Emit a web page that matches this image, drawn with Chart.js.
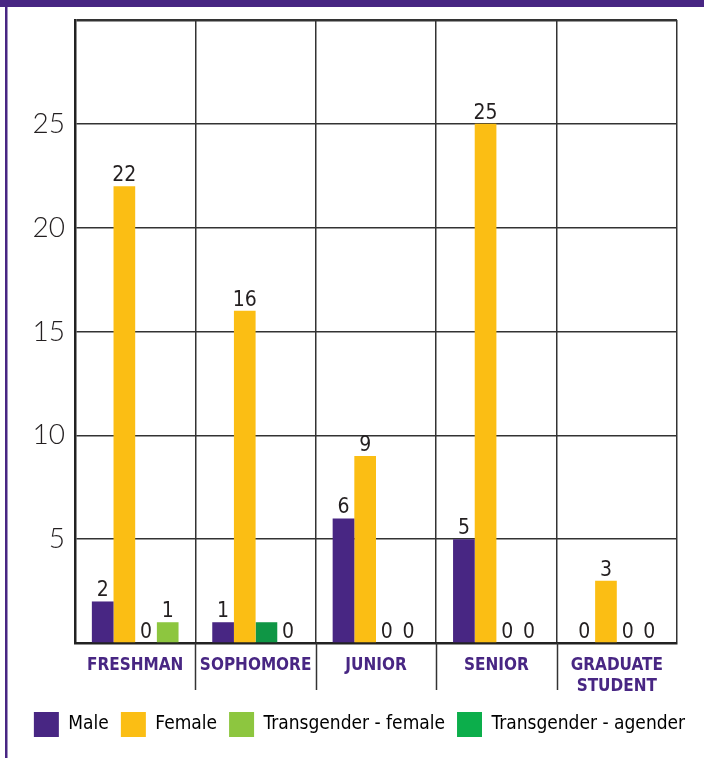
<!DOCTYPE html>
<html>
<head>
<meta charset="utf-8">
<script src="https://cdn.jsdelivr.net/npm/chart.js@4/dist/chart.umd.min.js"></script>
<style>
  html, body { margin: 0; padding: 0; background: #fff; }
  #wrap { position: relative; width: 704px; height: 758px; }
  canvas { display: block; }
</style>
</head>
<body>
<div id="wrap"><canvas id="c" width="704" height="758"></canvas></div>
<script>
// Students by class year and gender
const categories = ['FRESHMAN', 'SOPHOMORE', 'JUNIOR', 'SENIOR', ['GRADUATE', 'STUDENT']];
const seriesNames = ['Male', 'Female', 'Transgender - female', 'Transgender - agender'];
const male = [2, 1, 6, 5, 0];
const female = [22, 16, 9, 25, 3];
const transFemale = [0, 1, 0, 0, 0];
const transAgender = [1, 0, 0, 0, 0];
const yTicks = [5, 10, 15, 20, 25];

const PURPLE = '#482683';
const GOLD = '#fbbe14';
const LIGHT_GREEN = '#8dc63f';
const DARK_GREEN = '#0f9645';
const LEGEND_GREEN = '#0cae4b';

const NARROW = "'DejaVu Sans Condensed', 'Roboto', sans-serif";

// value labels that are left off the chart (dataset index, category index)
const unlabeled = [[2, 1]];

const valueLabels = {
  id: 'valueLabels',
  afterDatasetsDraw(chart) {
    const ctx = chart.ctx;
    ctx.save();
    ctx.font = '21px ' + NARROW;
    ctx.fillStyle = '#231f20';
    ctx.textAlign = 'center';
    ctx.textBaseline = 'alphabetic';
    chart.data.datasets.forEach((ds, di) => {
      const meta = chart.getDatasetMeta(di);
      meta.data.forEach((bar, i) => {
        if (unlabeled.some(p => p[0] === di && p[1] === i)) return;
        ctx.fillText(String(ds.data[i]), bar.x, bar.y - 5);
      });
    });
    ctx.restore();
  }
};

const frame = {
  id: 'frame',
  afterLayout(chart) {
    // nudge the legend row to the right
    if (chart.legend) {
      chart.legend.left += 21;
      chart.legend.right += 21;
    }
  },
  beforeDraw(chart) {
    const ctx = chart.ctx;
    ctx.save();
    ctx.fillStyle = '#fff';
    ctx.fillRect(0, 0, chart.width, chart.height);
    ctx.fillStyle = PURPLE;
    ctx.fillRect(0, 0, chart.width, 7);
    ctx.fillRect(5, 0, 2.5, chart.height);
    ctx.restore();
  },
  afterDraw(chart) {
    // separators between category labels below the axis
    const x = chart.scales.x;
    const area = chart.chartArea;
    const half = x.width / categories.length / 2;
    const ctx = chart.ctx;
    ctx.save();
    ctx.strokeStyle = '#333';
    ctx.lineWidth = 1.5;
    for (let i = 1; i < categories.length; i++) {
      const px = Math.round(x.getPixelForValue(i) - half) + 0.5;
      ctx.beginPath();
      ctx.moveTo(px, area.bottom);
      ctx.lineTo(px, area.bottom + 47);
      ctx.stroke();
    }
    ctx.restore();
  }
};

new Chart(document.getElementById('c'), {
  type: 'bar',
  data: {
    labels: categories,
    datasets: [
      { label: seriesNames[0], data: male, backgroundColor: PURPLE, legendColor: PURPLE },
      { label: seriesNames[1], data: female, backgroundColor: GOLD, legendColor: GOLD },
      { label: seriesNames[2], data: transFemale, backgroundColor: [LIGHT_GREEN, DARK_GREEN, LIGHT_GREEN, LIGHT_GREEN, LIGHT_GREEN], legendColor: LIGHT_GREEN },
      { label: seriesNames[3], data: transAgender, backgroundColor: [LIGHT_GREEN, LEGEND_GREEN, LEGEND_GREEN, LEGEND_GREEN, LEGEND_GREEN], legendColor: LEGEND_GREEN }
    ]
  },
  options: {
    responsive: false,
    animation: false,
    events: [],
    layout: { padding: { top: 20, right: 27, left: 0, bottom: 11 } },
    datasets: { bar: { categoryPercentage: 0.72, barPercentage: 1.0, borderWidth: 0 } },
    plugins: {
      tooltip: { enabled: false },
      legend: {
        position: 'bottom',
        labels: {
          boxWidth: 25,
          boxHeight: 25,
          padding: 12,
          color: '#231f20',
          font: { size: 19, family: NARROW },
          generateLabels(chart) {
            return chart.data.datasets.map((ds, i) => ({
              text: ds.label,
              fillStyle: ds.legendColor,
              strokeStyle: ds.legendColor,
              lineWidth: 0,
              hidden: false,
              datasetIndex: i
            }));
          }
        }
      }
    },
    scales: {
      x: {
        offset: true,
        grid: {
          offset: true,
          drawTicks: false,
          color: '#333',
          lineWidth: (c) => (c.index === categories.length ? 2.5 : 1.5)
        },
        border: { display: true, color: '#222', width: 2.5 },
        ticks: {
          padding: 12,
          color: PURPLE,
          font: { size: 17, weight: 'bold', family: NARROW, lineHeight: 1.25 },
          maxRotation: 0,
          autoSkip: false
        },
        afterFit(scale) { scale.height = 57; }
      },
      y: {
        min: 0,
        max: 30,
        afterBuildTicks(scale) {
          scale.ticks = [0].concat(yTicks, [30]).map(v => ({ value: v }));
        },
        grid: {
          drawTicks: false,
          color: '#333',
          lineWidth: (c) => (c.tick && c.tick.value === 30 ? 2.5 : 1.5)
        },
        border: { display: true, color: '#222', width: 2.5 },
        ticks: {
          padding: 10,
          color: '#231f20',
          font: { size: 28, weight: '300', family: "'Lato', 'Open Sans', sans-serif" },
          callback: (v) => (yTicks.includes(v) ? String(v) : '')
        },
        afterFit(scale) {
          scale.width = 75;
          scale.paddingTop = 0;
          scale.paddingBottom = 0;
        }
      }
    }
  },
  plugins: [frame, valueLabels]
});
</script>
</body>
</html>
